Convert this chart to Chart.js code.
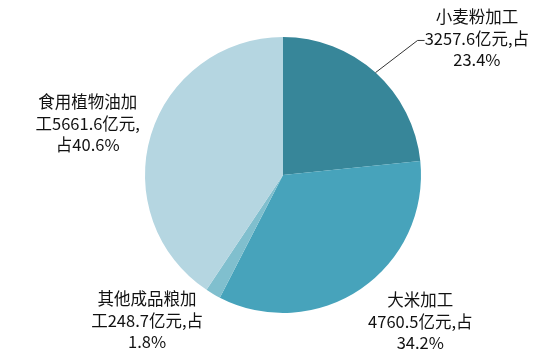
<!DOCTYPE html>
<html>
<head>
<meta charset="utf-8">
<script src="https://cdn.jsdelivr.net/npm/chart.js@4/dist/chart.umd.min.js"></script>
<style>
html,body{margin:0;padding:0;background:#fff;}
#wrap{width:556px;height:356px;position:relative;}
</style>
</head>
<body>
<div id="wrap"><canvas id="c" width="556" height="356"></canvas></div>
<script>
const categories = ['小麦粉加工', '大米加工', '其他成品粮加工', '食用植物油加工'];
const values = [3257.6, 4760.5, 248.7, 5661.6];
const percents = [23.4, 34.2, 1.8, 40.6];
const labelLines = [
  ['小麦粉加工', '3257.6亿元,占', '23.4%'],
  ['大米加工', '4760.5亿元,占', '34.2%'],
  ['其他成品粮加', '工248.7亿元,占', '1.8%'],
  ['食用植物油加', '工5661.6亿元,', '占40.6%']
];
const colors = ['#378699', '#47A3BB', '#80BFCE', '#B5D6E1'];

// label block centers relative to pie center, in units of radius
const labelOffsets = [[1.405, -0.99], [0.995, 1.06], [-0.985, 1.055], [-1.415, -0.375]];

const labelPlugin = {
  id: 'sliceLabels',
  afterDatasetsDraw(chart) {
    const ctx = chart.ctx;
    const meta = chart.getDatasetMeta(0);
    ctx.save();
    ctx.font = '16.5px "Noto Sans CJK SC", sans-serif';
    ctx.fillStyle = '#111';
    ctx.textAlign = 'center';
    ctx.textBaseline = 'middle';
    const lh = 21.5;
    meta.data.forEach((arc, i) => {
      const cx = arc.x, cy = arc.y, r = arc.outerRadius;
      const bx = cx + labelOffsets[i][0] * r;
      const by = cy + labelOffsets[i][1] * r;
      const lines = labelLines[i];
      lines.forEach((t, k) => {
        ctx.fillText(t, bx, by + (k - (lines.length - 1) / 2) * lh);
      });
      if (i === 0) {
        const mid = (arc.startAngle + arc.endAngle) / 2;
        const sx = cx + Math.cos(mid) * r;
        const sy = cy + Math.sin(mid) * r;
        const ex = cx + 0.975 * r;
        const ey = cy - 0.975 * r;
        ctx.strokeStyle = '#333';
        ctx.lineWidth = 1;
        ctx.beginPath();
        ctx.moveTo(sx, sy);
        ctx.lineTo(ex, ey);
        ctx.lineTo(ex + 7, ey);
        ctx.stroke();
      }
    });
    ctx.restore();
  }
};

new Chart(document.getElementById('c'), {
  type: 'pie',
  data: {
    labels: categories,
    datasets: [{
      data: values,
      backgroundColor: colors,
      borderWidth: 0
    }]
  },
  options: {
    responsive: false,
    animation: false,
    layout: { padding: { top: 37, bottom: 43, left: 10, right: 0 } },
    plugins: { legend: { display: false }, tooltip: { enabled: false } }
  },
  plugins: [labelPlugin]
});
</script>
</body>
</html>
